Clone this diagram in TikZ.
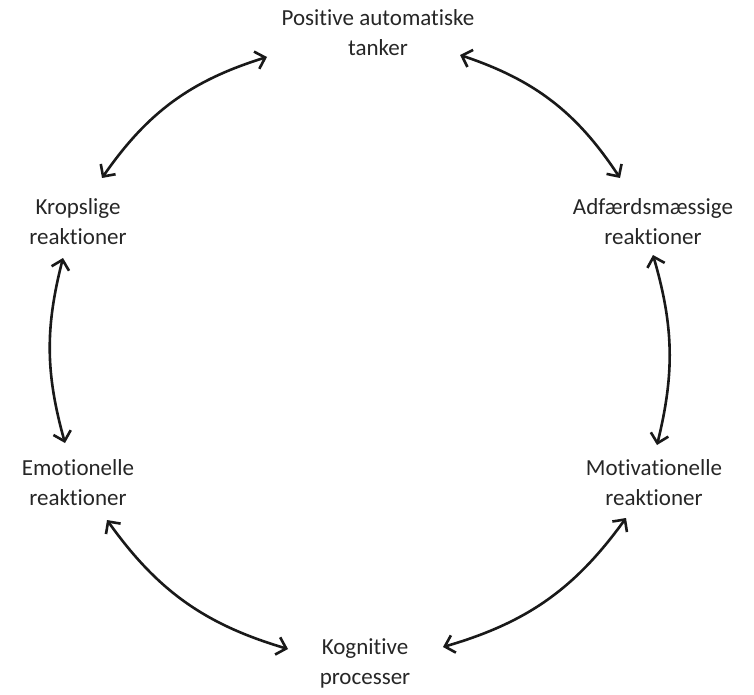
\documentclass[tikz,border=0pt]{standalone}
\usepackage{fontspec}
\setmainfont{Carlito}[Ligatures=NoCommon]
\usetikzlibrary{arrows.meta}
\begin{document}
\begin{tikzpicture}[x=1pt,y=-1pt,
  lbl/.style={align=center,inner sep=0pt,font=\fontsize{23}{30}\selectfont,text=black!85},
  arr/.style={{Straight Barb[length=9pt,width=18pt]}-{Straight Barb[length=9pt,width=18pt]},line width=2.6pt,draw=black!90}]
\useasboundingbox (0,0) rectangle (754,695);
\node[lbl] (top) at (378,33) {Positive automatiske\\tanker};
\node[lbl] (krop) at (78,222) {Kropslige\\reaktioner};
\node[lbl] (adf) at (653,222) {Adfærdsmæssige\\reaktioner};
\node[lbl] (emo) at (78,483) {Emotionelle\\reaktioner};
\node[lbl] (mot) at (654,483) {Motivationelle\\reaktioner};
\node[lbl] (kog) at (365,663) {Kognitive\\processer};
\draw[arr] ([shift={(-111,24)}]top.center) to[bend right=19] ([shift={(24,-44)}]krop.center);
\draw[arr] ([shift={(-15,36)}]krop.center) to[bend right=15] ([shift={(-13,-40)}]emo.center);
\draw[arr] ([shift={(29,37)}]emo.center) to[bend right=19] ([shift={(-77,-14)}]kog.center);
\draw[arr] ([shift={(78,-16)}]kog.center) to[bend right=19] ([shift={(-28,35)}]mot.center);
\draw[arr] ([shift={(3,-38)}]mot.center) to[bend right=15] ([shift={(0,33)}]adf.center);
\draw[arr] ([shift={(-33,-44)}]adf.center) to[bend right=19] ([shift={(82,22)}]top.center);
\end{tikzpicture}
\end{document}
